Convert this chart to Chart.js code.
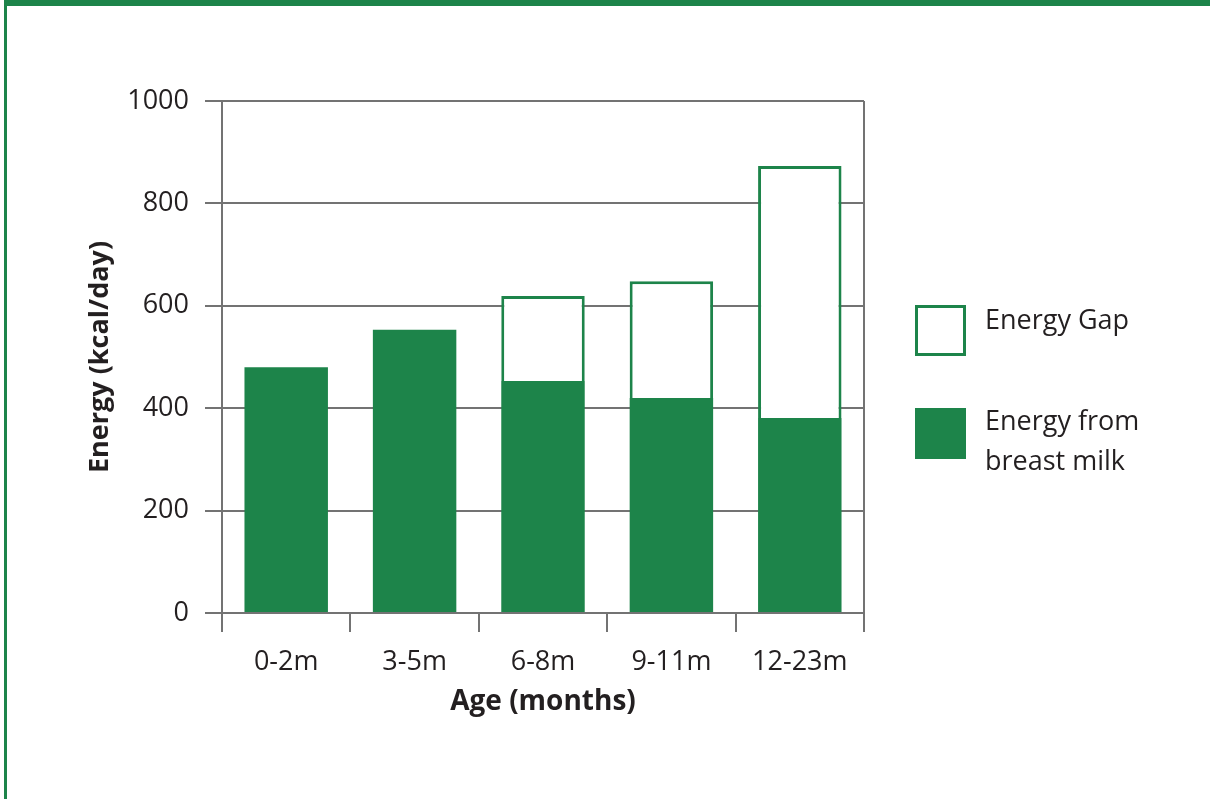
<!DOCTYPE html>
<html>
<head>
<meta charset="utf-8">
<title>Energy from breast milk and energy gap by age</title>
<script src="https://cdn.jsdelivr.net/npm/chart.js@4.4.1/dist/chart.umd.min.js"></script>
<style>
  html, body { margin: 0; padding: 0; background: #ffffff; }
  #wrap { position: relative; width: 1210px; height: 799px; overflow: hidden; }
  #frame {
    position: absolute; left: 4px; top: 0; width: 1210px; height: 799px;
    border-top: 6px solid #1d844a; border-left: 3px solid #1d844a;
    box-sizing: border-box; pointer-events: none;
  }
  canvas { position: absolute; left: 0; top: 0; }
</style>
</head>
<body>
<div id="wrap">
  <canvas id="chart" width="1210" height="799"></canvas>
  <div id="frame"></div>
</div>
<script>
// Age groups and energy values (kcal/day)
const ageGroups = ['0-2m', '3-5m', '6-8m', '9-11m', '12-23m'];
const breastMilkEnergy = [480, 553, 453, 420, 381];
const energyGap = [0, 0, 166, 228, 492];
const yTicks = [0, 200, 400, 600, 800, 1000];
const legendLabels = [['Energy Gap'], ['Energy from', 'breast milk']];

const GREEN = '#1d844a';
const GRID = '#737373';
const TEXT = '#231f20';
const FONT = "'Open Sans', 'Noto Sans', sans-serif";

Chart.defaults.font.family = FONT;
Chart.defaults.color = TEXT;

// Closing line on the right side of the plot frame
const rightFrame = {
  id: 'rightFrame',
  afterDatasetsDraw(chart) {
    const { ctx, chartArea } = chart;
    ctx.save();
    ctx.strokeStyle = GRID;
    ctx.lineWidth = 2;
    ctx.beginPath();
    ctx.moveTo(chartArea.right, chartArea.top);
    ctx.lineTo(chartArea.right, chartArea.bottom);
    ctx.stroke();
    ctx.restore();
  }
};

// Legend drawn beside the plot with multi-line labels
const sideLegend = {
  id: 'sideLegend',
  afterDraw(chart) {
    const { ctx, chartArea } = chart;
    const x0 = chartArea.right + 51;
    const box = 51;
    const items = [
      { ds: chart.data.datasets[1], top: 305, lines: legendLabels[0], base: 329 },
      { ds: chart.data.datasets[0], top: 408, lines: legendLabels[1], base: 430 }
    ];
    ctx.save();
    items.forEach(it => {
      if (it.ds.borderWidth) {
        ctx.fillStyle = '#ffffff';
        ctx.fillRect(x0, it.top, box, box);
        ctx.strokeStyle = it.ds.borderColor;
        ctx.lineWidth = 3;
        ctx.strokeRect(x0 + 1.5, it.top + 1.5, box - 3, box - 3);
      } else {
        ctx.fillStyle = it.ds.backgroundColor;
        ctx.fillRect(x0, it.top, box, box);
      }
      ctx.fillStyle = TEXT;
      ctx.font = "27px " + FONT;
      ctx.textBaseline = 'alphabetic';
      ctx.textAlign = 'left';
      it.lines.forEach((ln, i) => ctx.fillText(ln, x0 + 70, it.base + i * 40));
    });
    ctx.restore();
  }
};

new Chart(document.getElementById('chart'), {
  type: 'bar',
  data: {
    labels: ageGroups,
    datasets: [
      {
        label: 'Energy from breast milk',
        data: breastMilkEnergy,
        backgroundColor: GREEN,
        borderWidth: 0,
        stack: 'energy'
      },
      {
        label: 'Energy Gap',
        data: energyGap,
        backgroundColor: '#ffffff',
        borderColor: GREEN,
        borderWidth: 3,
        borderSkipped: 'bottom',
        stack: 'energy'
      }
    ]
  },
  options: {
    responsive: false,
    animation: false,
    layout: { padding: { left: 84, right: 346, top: 101, bottom: 80 } },
    plugins: {
      legend: { display: false },
      tooltip: { enabled: false }
    },
    datasets: { bar: { categoryPercentage: 1, barPercentage: 0.65 } },
    scales: {
      x: {
        stacked: true,
        offset: true,
        afterFit(scale) { scale.height = 106; },
        grid: {
          offset: true,
          drawOnChartArea: false,
          drawTicks: true,
          tickLength: 19,
          color: GRID,
          lineWidth: 2
        },
        border: { display: true, color: GRID, width: 2 },
        ticks: { padding: 14, font: { size: 27 }, color: TEXT, maxRotation: 0 },
        title: {
          display: true,
          text: 'Age (months)',
          font: { size: 28, weight: 'bold' },
          color: TEXT,
          padding: { top: 0, bottom: 0 }
        }
      },
      y: {
        stacked: true,
        min: 0,
        max: 1000,
        afterFit(scale) { scale.width = 138; },
        afterBuildTicks(scale) { scale.ticks = yTicks.map(v => ({ value: v })); },
        grid: {
          color: GRID,
          lineWidth: 2,
          drawTicks: true,
          tickLength: 17
        },
        border: { display: true, color: GRID, width: 2 },
        ticks: {
          padding: 16,
          font: { size: 27 },
          color: TEXT,
          callback: v => String(v)
        },
        title: {
          display: true,
          text: 'Energy (kcal/day)',
          font: { size: 27, weight: 'bold' },
          color: TEXT,
          padding: { top: 0, bottom: 0 }
        }
      }
    }
  },
  plugins: [rightFrame, sideLegend]
});
</script>
</body>
</html>
